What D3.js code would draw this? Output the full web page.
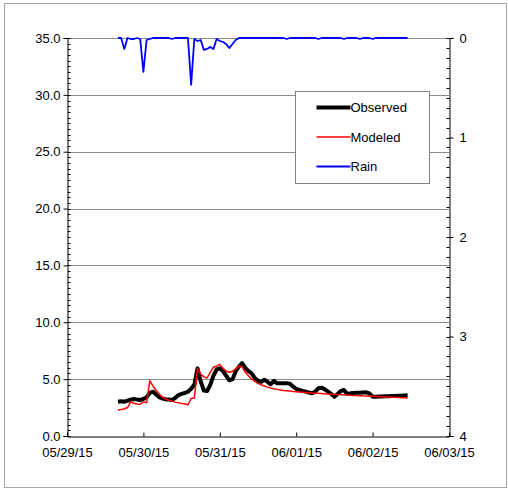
<!DOCTYPE html>
<html>
<head>
<meta charset="utf-8">
<script src="https://cdn.jsdelivr.net/npm/d3@7/dist/d3.min.js"></script>
<style>
  html, body { margin: 0; padding: 0; background: #fff; }
  svg { display: block; font-family: Arial, "Liberation Sans", sans-serif; }
</style>
</head>
<body>
<svg id="chart" width="508" height="489"></svg>
<script>
// Hourly series starting 05/29/15 16:00
const startTime = new Date(2015, 4, 29, 16);

const observed = [
  3.02, 3.05, 3.02, 3.10, 3.20, 3.25, 3.20, 3.17, 3.25, 3.40,
  3.80, 3.90, 3.65, 3.40, 3.30, 3.22, 3.20, 3.17, 3.35, 3.60,
  3.70, 3.78, 3.90, 4.15, 4.50, 5.95, 4.80, 4.00, 3.95, 4.50,
  5.30, 5.85, 5.95, 5.70, 5.30, 4.90, 5.00, 5.70, 6.10, 6.40,
  6.00, 5.70, 5.50, 5.10, 4.85, 4.75, 4.95, 4.75, 4.55, 4.85,
  4.63, 4.63, 4.63, 4.65, 4.60, 4.35, 4.15, 4.05, 3.97, 3.90,
  3.82, 3.75, 3.92, 4.20, 4.25, 4.10, 3.90, 3.70, 3.46, 3.70,
  3.95, 4.05, 3.70, 3.75, 3.78, 3.81, 3.80, 3.82, 3.84, 3.75,
  3.46, 3.46, 3.48, 3.48, 3.50, 3.50, 3.52, 3.52, 3.55, 3.55,
  3.57, 3.58
];

const modeled = [
  2.29, 2.32, 2.40, 2.50, 3.00, 2.88, 2.82, 2.80, 3.00, 2.93,
  4.86, 4.40, 4.00, 3.70, 3.40, 3.25, 3.15, 3.07, 2.98, 2.92,
  2.87, 2.82, 2.75, 3.30, 3.35, 5.95, 5.45, 5.20, 5.10, 5.60,
  6.05, 6.15, 6.30, 5.95, 5.70, 5.60, 5.70, 5.90, 6.16, 6.10,
  5.60, 5.30, 5.00, 4.80, 4.63, 4.50, 4.40, 4.30, 4.22, 4.15,
  4.10, 4.05, 4.00, 3.98, 3.95, 3.92, 3.90, 3.88, 3.85, 3.83,
  3.80, 3.78, 3.76, 3.75, 3.73, 3.71, 3.70, 3.68, 3.66, 3.65,
  3.63, 3.62, 3.60, 3.58, 3.57, 3.56, 3.55, 3.53, 3.52, 3.51,
  3.50, 3.48, 3.47, 3.46, 3.44, 3.43, 3.42, 3.40, 3.39, 3.37,
  3.36, 3.34
];

const rain = [
  0.00, 0.00, 0.11, 0.00, 0.01, 0.01, 0.00, 0.01, 0.34, 0.02,
  0.01, 0.00, 0.00, 0.00, 0.00, 0.00, 0.00, 0.01, 0.00, 0.00,
  0.00, 0.00, 0.00, 0.47, 0.01, 0.03, 0.02, 0.12, 0.11, 0.09,
  0.11, 0.01, 0.03, 0.04, 0.06, 0.10, 0.06, 0.02, 0.00, 0.00,
  0.00, 0.00, 0.00, 0.00, 0.00, 0.00, 0.00, 0.00, 0.00, 0.00,
  0.00, 0.00, 0.00, 0.01, 0.00, 0.00, 0.00, 0.00, 0.00, 0.00,
  0.00, 0.00, 0.00, 0.01, 0.00, 0.00, 0.00, 0.00, 0.00, 0.00,
  0.00, 0.01, 0.00, 0.00, 0.00, 0.00, 0.01, 0.00, 0.00, 0.00,
  0.01, 0.00, 0.00, 0.00, 0.00, 0.00, 0.00, 0.00, 0.00, 0.00,
  0.00, 0.00
];

const leftTicks = [0, 5, 10, 15, 20, 25, 30, 35];
const rightTicks = [0, 1, 2, 3, 4];
const dateTicks = [
  new Date(2015, 4, 29), new Date(2015, 4, 30), new Date(2015, 4, 31),
  new Date(2015, 5, 1), new Date(2015, 5, 2), new Date(2015, 5, 3)
];
const legendItems = [
  { name: "Observed", color: "#000000", width: 4 },
  { name: "Modeled", color: "#ff0000", width: 1.5 },
  { name: "Rain", color: "#0000ff", width: 1.8 }
];

const times = observed.map((_, i) => d3.timeHour.offset(startTime, i));

const svg = d3.select("#chart");
const plot = { left: 67, right: 449, top: 38, bottom: 436 };

const x = d3.scaleTime()
  .domain([dateTicks[0], dateTicks[dateTicks.length - 1]])
  .range([plot.left, plot.right]);
const y = d3.scaleLinear().domain([0, 35]).range([plot.bottom, plot.top]);
const yRain = d3.scaleLinear().domain([0, 4]).range([plot.top, plot.bottom]);

// outer frame
svg.append("rect")
  .attr("x", 4.5).attr("y", 3.5)
  .attr("width", 502).attr("height", 484)
  .attr("fill", "#fff").attr("stroke", "#a6a6a6").attr("stroke-width", 1);

// horizontal gridlines
svg.append("g")
  .selectAll("line")
  .data(leftTicks.filter(d => d > 0))
  .join("line")
  .attr("x1", plot.left).attr("x2", plot.right)
  .attr("y1", d => Math.round(y(d)) + 0.5).attr("y2", d => Math.round(y(d)) + 0.5)
  .attr("stroke", "#8c8c8c").attr("stroke-width", 1);

// left axis with outward major ticks and inward minor ticks
const leftAxis = svg.append("g")
  .attr("transform", `translate(${plot.left + 0.5},0)`)
  .call(d3.axisLeft(y).tickValues(leftTicks).tickFormat(d3.format(".1f")).tickSize(4).tickPadding(3));
leftAxis.select(".domain").attr("stroke", "#000");
leftAxis.selectAll("text").attr("font-size", 13).attr("fill", "#000").attr("font-family", "Arial, 'Liberation Sans', sans-serif");
leftAxis.append("g").selectAll("line")
  .data(d3.range(0, 35.01, 0.5))
  .join("line")
  .attr("x1", 0).attr("x2", 3)
  .attr("y1", d => Math.round(y(d)) + 0.5).attr("y2", d => Math.round(y(d)) + 0.5)
  .attr("stroke", "#000");

// right axis (rain, reversed)
const rightAxis = svg.append("g")
  .attr("transform", `translate(${plot.right + 0.5},0)`)
  .call(d3.axisRight(yRain).tickValues(rightTicks).tickFormat(d3.format("d")).tickSize(4).tickPadding(6));
rightAxis.select(".domain").attr("stroke", "#000");
rightAxis.selectAll("text").attr("font-size", 13).attr("fill", "#000").attr("font-family", "Arial, 'Liberation Sans', sans-serif");
rightAxis.append("g").selectAll("line")
  .data(d3.range(0, 4.001, 0.1))
  .join("line")
  .attr("x1", 0).attr("x2", -3)
  .attr("y1", d => Math.round(yRain(d)) + 0.5).attr("y2", d => Math.round(yRain(d)) + 0.5)
  .attr("stroke", "#000");

// bottom axis
const bottomAxis = svg.append("g")
  .attr("transform", `translate(0,${plot.bottom + 0.5})`)
  .call(d3.axisBottom(x).tickValues(dateTicks).tickFormat(d3.timeFormat("%m/%d/%y")).tickSize(0).tickPadding(11));
bottomAxis.select(".domain").attr("stroke", "#000");
bottomAxis.selectAll("text").attr("font-size", 13).attr("fill", "#000").attr("font-family", "Arial, 'Liberation Sans', sans-serif");
bottomAxis.selectAll(".tick").append("line")
  .attr("y1", 0).attr("y2", -4).attr("stroke", "#000");

// series
const lineMain = (vals) => d3.line().x((d, i) => x(times[i])).y(d => y(d))(vals);
const lineRain = d3.line().x((d, i) => x(times[i])).y(d => yRain(d));

svg.append("path").attr("d", lineMain(observed))
  .attr("fill", "none").attr("stroke", "#000").attr("stroke-width", 4).attr("stroke-linejoin", "round");
svg.append("path").attr("d", lineMain(modeled))
  .attr("fill", "none").attr("stroke", "#ff0000").attr("stroke-width", 1.5).attr("stroke-linejoin", "round");
svg.append("path").attr("d", lineRain(rain))
  .attr("fill", "none").attr("stroke", "#0000ff").attr("stroke-width", 1.8).attr("stroke-linejoin", "round");

// legend
const legend = svg.append("g").attr("transform", "translate(295.5,91.5)");
legend.append("rect").attr("width", 134).attr("height", 92)
  .attr("fill", "#fff").attr("stroke", "#7f7f7f");
legendItems.forEach((item, i) => {
  const ly = 16 + i * 29.5;
  legend.append("line")
    .attr("x1", 21).attr("x2", 55).attr("y1", ly).attr("y2", ly)
    .attr("stroke", item.color).attr("stroke-width", item.width);
  legend.append("text")
    .attr("x", 55).attr("y", ly).attr("dy", "0.35em")
    .attr("font-size", 13).attr("fill", "#000")
    .text(item.name);
});
</script>
</body>
</html>
